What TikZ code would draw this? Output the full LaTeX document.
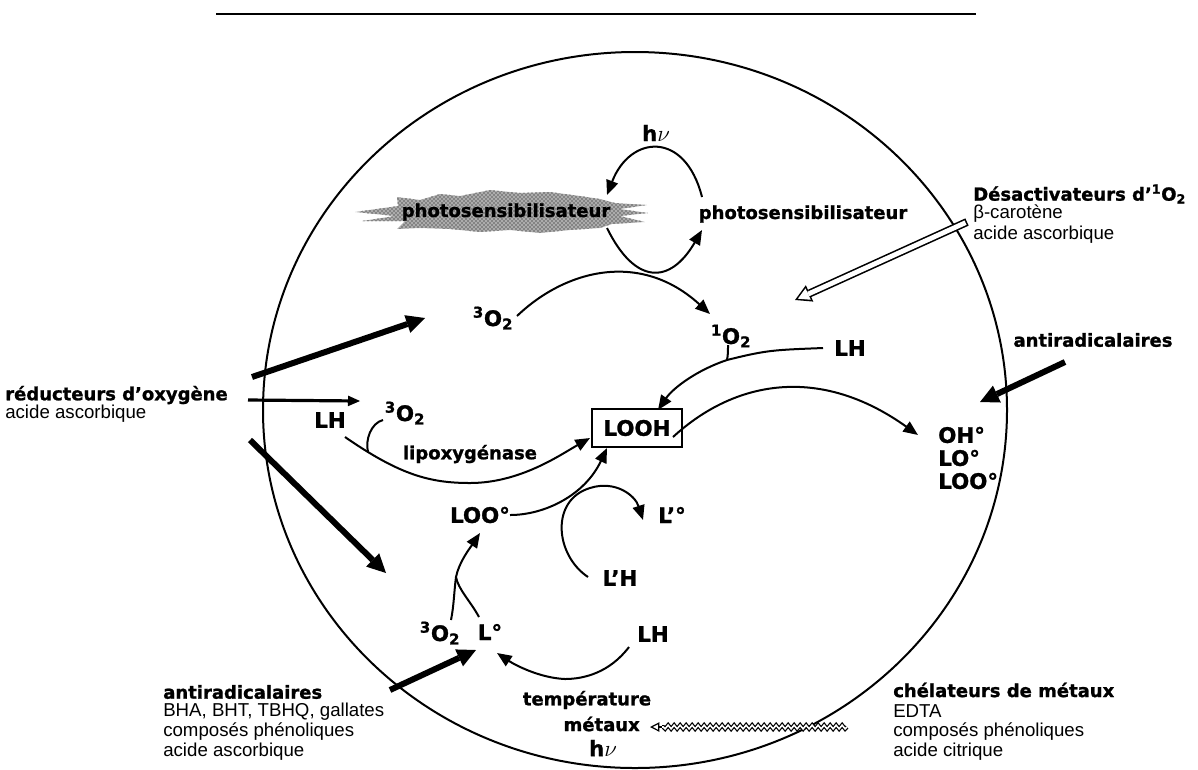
\documentclass[tikz,border=0pt]{standalone}
\usepackage{fontspec}
\setmainfont{Liberation Sans}
\newfontfamily\heavy{DejaVu Sans}[BoldFeatures={FakeBold=1.2}]
\usetikzlibrary{arrows.meta,decorations.pathmorphing,patterns}
\begin{document}
\begin{tikzpicture}[x=0.75pt,y=-0.75pt,
  bl/.style={font=\heavy\bfseries\fontsize{13.5}{16}\selectfont, inner sep=0pt},
  big/.style={font=\heavy\bfseries\fontsize{16}{18}\selectfont, inner sep=0pt},
  rg/.style={font=\fontsize{14}{16}\selectfont, inner sep=0pt},
  conn/.style={line width=1.5pt, -{Triangle[length=11pt,width=9pt]}},
  plain/.style={line width=1.5pt},
  bigarrow/.style={line width=4.5pt, -{Triangle[length=14pt,width=14pt,line width=0pt]}},
  medarrow/.style={line width=2.4pt, -{Triangle[length=9pt,width=8pt,line width=0pt]}},
  hollowout/.style={line width=6pt, -{Triangle[length=12pt,width=13.5pt,line width=0pt]}},
  hollowin/.style={white, line width=3.6pt, shorten <=1.2pt, shorten >=2.4pt, -{Triangle[length=8.4pt,width=9.4pt,line width=0pt]}},
  wavy/.style={line width=0.9pt, double=white, double distance=1.2pt, decorate, decoration={snake, amplitude=1.4pt, segment length=4.5pt}},
]
\useasboundingbox (0,0) rectangle (1198,769);
% top rule and circle
\draw[line width=1pt] (216,14) -- (976,14);
\draw[line width=1.5pt] (635,410) ellipse [x radius=372, y radius=358];
% fuzzy starburst behind the first photosensibilisateur
\fill[gray!65, postaction={pattern=crosshatch dots, pattern color=black}]
  (355,212) -- (398,206) -- (397,197) -- (420,200) -- (440,194) -- (460,196) -- (490,190)
  -- (520,193) -- (550,192) -- (580,196) -- (600,199) -- (615,203) -- (647,205) -- (620,209)
  -- (648,213) -- (620,216) -- (645,222) -- (612,224) -- (600,228) -- (570,230) -- (540,233)
  -- (510,230) -- (480,232) -- (450,229) -- (420,228) -- (397,229) -- (405,221) -- (362,221)
  -- (395,216) -- cycle;
% nodes
\node[bl] (ps1) at (506,212) {photosensibilisateur};
\node[bl] (ps2) at (803,214) {photosensibilisateur};
\node[big] (hv1) at (656,133) {h$\nu$};
\node[big] (o3a) at (493,318) {\textsuperscript{3}O\textsubscript{2}};
\node[big] (o1) at (731,336) {\textsuperscript{1}O\textsubscript{2}};
\node[big] (lh1) at (850,348) {LH};
\node[big, draw, line width=1.3pt, minimum width=68pt, minimum height=29pt] (looh) at (637,428) {LOOH};
\node[big, anchor=west] (oh) at (938,435) {OH°};
\node[big, anchor=west] (lo) at (938,458) {LO°};
\node[big, anchor=west] (loo) at (938,481) {LOO°};
\node[bl] (anti1) at (1093,340) {antiradicalaires};
\node[bl, anchor=west] (des) at (973,194) {Désactivateurs d’\textsuperscript{1}O\textsubscript{2}};
\node[rg, anchor=west] (des2) at (973,214) {β-carotène};
\node[rg, anchor=west] (des3) at (973,235) {acide ascorbique};
\node[bl, anchor=west] (red) at (5,395) {réducteurs d’oxygène};
\node[rg, anchor=west] (red2) at (5,414) {acide ascorbique};
\node[big] (lh2) at (330,420) {LH};
\node[big] (o3b) at (405,413) {\textsuperscript{3}O\textsubscript{2}};
\node[bl] (lipo) at (470,454) {lipoxygénase};
\node[big] (loo2) at (480,515) {LOO°};
\node[big] (lp) at (672,515) {L’°};
\node[big] (lph) at (620,578) {L’H};
\node[big] (o3c) at (440,633) {\textsuperscript{3}O\textsubscript{2}};
\node[big] (l) at (490,632) {L°};
\node[big] (lh3) at (653,634) {LH};
\node[bl, anchor=west] (anti2) at (163,692) {antiradicalaires};
\node[rg, anchor=west] (bha) at (163,712) {BHA, BHT, TBHQ, gallates};
\node[rg, anchor=west] (comp1) at (163,732) {composés phénoliques};
\node[rg, anchor=west] (asc2) at (163,752) {acide ascorbique};
\node[bl] (temp) at (587,700) {température};
\node[bl, anchor=east] (met) at (640,724) {métaux};
\node[big] (hv2) at (603,748) {h$\nu$};
\node[bl, anchor=west] (che) at (893,690) {chélateurs de métaux};
\node[rg, anchor=west] (edta) at (893,711) {EDTA};
\node[rg, anchor=west] (comp2) at (893,732) {composés phénoliques};
\node[rg, anchor=west] (cit) at (893,752) {acide citrique};
% connectors
\draw[conn] ([shift={(-101,-17)}]ps2.center) .. controls +(-17,-67) and +(23,-60) .. ([shift={(101,-17)}]ps1.center);
\draw[conn] ([shift={(101,16)}]ps1.center) .. controls +(28,57) and +(-32,55) .. ([shift={(-101,16)}]ps2.center);
\draw[conn] ([shift={(24,-2)}]o3a.center) .. controls +(48,-46) and +(-70,-64) .. ([shift={(-21,-22)}]o1.center);
\coordinate (j1) at (727,360);
\draw[conn] ([shift={(-27,0)}]lh1.center) .. controls +(-50,2) and +(40,-10) .. (j1) .. controls +(-30,10) and +(15,-22) .. ([shift={(21,-18)}]looh.center);
\draw[plain] ([shift={(-3,9)}]o1.center) .. controls +(0,6) and +(1,-5) .. (j1);
\draw[conn] ([shift={(36,9)}]looh.center) .. controls +(62,-57) and +(-98,-70) .. ([shift={(-20,0)}]oh.west);
\coordinate (j2) at (368,452);
\draw[conn] ([shift={(15,17)}]lh2.center) .. controls +(55,38) and +(-40,0) .. (470,483) .. controls +(50,0) and +(-30,17) .. ([shift={(-47,10)}]looh.center);
\draw[plain] ([shift={(-22,7)}]o3b.center) .. controls +(-12,3) and +(-3,-12) .. (j2);
\draw[conn] ([shift={(30,0)}]loo2.center) .. controls +(35,0) and +(-22,47) .. ([shift={(-30,20)}]looh.center);
\draw[conn] ([shift={(-32,-1)}]lph.center) .. controls +(-33,-22) and +(-40,12) .. (590,488) .. controls +(25,-8) and +(-8,-25) .. ([shift={(-29,5)}]lp.center);
\coordinate (k) at (456,577);
\draw[conn] ([shift={(-11,-15)}]l.center) .. controls +(-8,-15) and +(2,12) .. (k) .. controls +(3,-15) and +(-10,15) .. ([shift={(0,18)}]loo2.center);
\draw[plain] ([shift={(11,-13)}]o3c.center) .. controls +(3,-15) and +(-2,15) .. (k);
\draw[conn] ([shift={(-24,13)}]lh3.center) .. controls +(-19,25) and +(20,0) .. (565,679) .. controls +(-25,-1) and +(18,12) .. ([shift={(7,21)}]l.center);
% thick inhibitor arrows
\coordinate (t1) at (980,402);
\draw[bigarrow] ([shift={(-28,22)}]anti1.center) -- (t1);
\draw[bigarrow] ([shift={(247,-18)}]red.west) -- ([shift={(-68,0)}]o3a.center);
\draw[medarrow] ([shift={(243,5)}]red.west) -- ([shift={(30,-19)}]lh2.center);
\draw[bigarrow] ([shift={(245,45)}]red.west) -- ([shift={(-54,-60)}]o3c.center);
\draw[bigarrow] ([shift={(227,-2)}]anti2.west) -- ([shift={(-14,18)}]l.center);
% hollow arrow
\draw[hollowout] ([shift={(-6,28)}]des.west) -- ([shift={(64,-36)}]o1.center);
\draw[hollowin] ([shift={(-6,28)}]des.west) -- ([shift={(64,-36)}]o1.center);
% wavy arrow
\coordinate (w1) at ([shift={(-46,37)}]che.west);
\coordinate (w2) at ([shift={(10,3)}]met.east);
\draw[wavy] (w1) -- ([shift={(12,0)}]w2);
\draw[line width=0.9pt, -{Triangle[open,length=7pt,width=7pt]}] ([shift={(12,0)}]w2) -- (w2);
\end{tikzpicture}
\end{document}
